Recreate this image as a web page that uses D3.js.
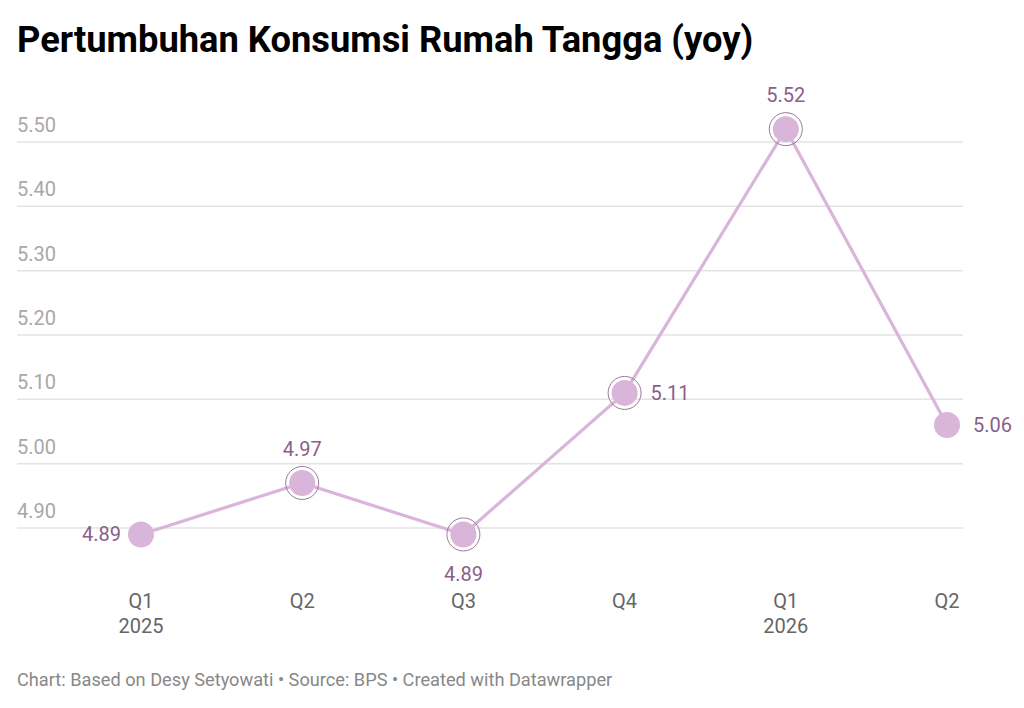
<!DOCTYPE html>
<html><head><meta charset="utf-8">
<script src="https://cdn.jsdelivr.net/npm/d3@7/dist/d3.min.js"></script>
<style>body{margin:0;background:#fff;font-family:Roboto,sans-serif}</style>
</head><body><svg id="c" width="1024" height="708"></svg>
<script>
const quarters = ["Q1","Q2","Q3","Q4","Q1","Q2"];
const years = ["2025","","","","2026",""];
const values = [4.89,4.97,4.89,5.11,5.52,5.06];
const labelPos = ["left","top","bottom","right","top","right"];
const ringed = [false,true,true,true,true,false];
const yTicks = [4.9,5.0,5.1,5.2,5.3,5.4,5.5];

const svg = d3.select("#c");
svg.append("text").attr("x",17).attr("y",52).attr("font-size",36.3).attr("font-weight",700)
  .attr("fill","#000").text("Pertumbuhan Konsumsi Rumah Tangga (yoy)");

const x = d3.scalePoint().domain(d3.range(values.length)).range([141,947]);
const y = d3.scaleLinear().domain([4.9,5.5]).range([528,142]);

const grid = svg.append("g");
yTicks.forEach(t=>{
  grid.append("line").attr("x1",17).attr("x2",963).attr("y1",y(t)).attr("y2",y(t))
    .attr("stroke","#e3e3e3").attr("stroke-width",1.5);
  grid.append("text").attr("x",17).attr("y",y(t)-10).attr("font-size",20).attr("fill","#a8a8a8")
    .text(d3.format(".2f")(t));
});

const line = d3.line().x((d,i)=>x(i)).y(d=>y(d));
svg.append("path").datum(values).attr("d",line).attr("fill","none")
  .attr("stroke","#d9b5da").attr("stroke-width",3.2);

values.forEach((v,i)=>{
  if(ringed[i]) svg.append("circle").attr("cx",x(i)).attr("cy",y(v)).attr("r",16.5)
    .attr("fill","none").attr("stroke","#9a7a9a").attr("stroke-width",1);
  svg.append("circle").attr("cx",x(i)).attr("cy",y(v)).attr("r",13).attr("fill","#d9b5da");
  const t = svg.append("text").attr("font-size",20).attr("fill","#8a6089").text(v.toFixed(2));
  const p = labelPos[i];
  if(p==="left") t.attr("x",x(i)-20).attr("y",y(v)+7).attr("text-anchor","end");
  else if(p==="right") t.attr("x",x(i)+26).attr("y",y(v)+7).attr("text-anchor","start");
  else if(p==="top") t.attr("x",x(i)).attr("y",y(v)-27).attr("text-anchor","middle");
  else t.attr("x",x(i)).attr("y",y(v)+47).attr("text-anchor","middle");
});

const xa = svg.append("g");
quarters.forEach((q,i)=>{
  xa.append("text").attr("x",x(i)).attr("y",608).attr("text-anchor","middle")
    .attr("font-size",20).attr("fill","#666").text(q);
  if(years[i]) xa.append("text").attr("x",x(i)).attr("y",633).attr("text-anchor","middle")
    .attr("font-size",20).attr("fill","#666").text(years[i]);
});

svg.append("text").attr("x",17).attr("y",686).attr("font-size",18.2).attr("fill","#888")
  .text("Chart: Based on Desy Setyowati • Source: BPS • Created with Datawrapper");
</script></body></html>
